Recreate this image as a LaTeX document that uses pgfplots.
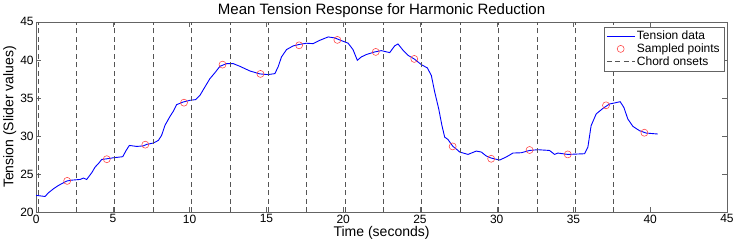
\documentclass[border=0pt]{standalone}
\usepackage{pgfplots}
\pgfplotsset{compat=1.18}
\usepackage{fontspec}
\setmainfont{Liberation Sans}
\definecolor{axgray}{RGB}{100,100,100}
\definecolor{dashgray}{RGB}{85,85,85}
\pgfplotsset{
  longline legend/.style={legend image code/.code={\draw[##1] (0cm,0cm) -- (0.97cm,0cm);}},
  midmark legend/.style={legend image code/.code={\draw[##1] plot coordinates {(0.485cm,0cm)};}},
}
\begin{document}
\begin{tikzpicture}
\begin{axis}[
  scale only axis,
  width=690pt, height=190pt,
  xmin=0, xmax=45, ymin=20, ymax=45,
  xtick={0,5,...,45}, ytick={20,25,...,45},
  tick align=inside, tick pos=both,
  major tick length=5pt,
  axis line style={axgray},
  every tick/.style={axgray},
  tick label style={font=\fontsize{12}{13}\selectfont},
  /pgf/number format/assume math mode=true,
  xticklabel style={yshift=1pt},
  yticklabel style={xshift=1pt},
  title={Mean Tension Response for Harmonic Reduction},
  title style={font=\fontsize{15}{17}\selectfont, yshift=-5pt},
  xlabel={Time (seconds)},
  ylabel={Tension (Slider values)},
  label style={font=\fontsize{14}{16}\selectfont},
  xlabel style={yshift=4pt},
  ylabel style={yshift=-3pt},
  unbounded coords=jump,
  legend cell align=left,
  legend style={at={(1,1)}, anchor=north east, xshift=-3pt, yshift=-5pt,
    font=\fontsize{12}{13}\selectfont, draw=axgray, inner sep=2pt, row sep=-1.5pt},
]
\addplot[blue, line width=0.9pt, longline legend] coordinates {
(0,22.2) (0.58,22.05) (0.8,22.54) (1.13,23.07) (1.45,23.5) (1.99,24.08)
(2.32,24.2) (2.86,24.29) (3.08,24.47) (3.29,24.29) (3.62,25.17) (3.84,25.92)
(4.05,26.36) (4.27,26.92) (4.59,27.0) (5.03,27.14) (5.64,27.28) (5.86,28.1)
(6.07,28.76) (6.55,28.63) (6.98,28.7) (7.2,28.9) (7.63,29.07) (7.96,29.42)
(8.17,30.08) (8.39,31.4) (8.72,32.58) (8.93,33.24) (9.15,34.12) (9.58,34.47)
(10.02,34.69) (10.38,34.78) (10.67,35.34) (10.99,36.44) (11.32,37.54) (11.65,38.33)
(11.97,39.16) (12.4,39.51) (12.84,39.51) (13.27,39.16) (13.92,38.55) (14.57,38.16)
(15.11,38.07) (15.55,38.2) (15.76,39.08) (15.98,40.39) (16.31,41.36) (16.74,41.84)
(17.18,42.05) (17.61,42.19) (18.04,42.14) (18.48,42.58) (19.02,43.02) (19.45,42.89)
(19.88,42.54) (20.32,42.2) (20.64,41.35) (20.92,39.95) (21.18,40.39) (21.5,40.7)
(22.05,41.05) (22.48,41.22) (23.03,40.96) (23.35,41.84) (23.57,42.1) (23.9,41.27)
(24.22,40.61) (24.66,40.08) (25.09,39.38) (25.48,38.95) (25.74,37.97) (25.96,35.79)
(26.22,33.59) (26.43,31.4) (26.61,29.86) (26.82,29.55) (27.15,28.63) (27.48,28.1)
(27.59,27.89) (28.13,27.58) (28.67,28.02) (29.0,27.89) (29.32,27.37) (29.64,27.1)
(30.19,26.84) (30.62,27.24) (31.06,27.76) (31.6,27.8) (32.14,28.1) (32.68,28.2)
(33.44,28.1) (33.77,27.58) (33.98,27.76) (34.31,27.67) (34.63,27.58) (35.72,27.67)
(35.94,28.55) (36.15,31.36) (36.48,32.9) (36.92,33.63) (37.35,34.21) (37.67,34.34)
(38.04,34.51) (38.28,33.77) (38.54,32.24) (38.87,31.27) (39.3,30.7) (39.73,30.39)
(40.49,30.26)
};
\addlegendentry{Tension data}
\addplot[only marks, mark=o, mark size=3.5pt, red!75!white, mark options={line width=0.55pt}, midmark legend] coordinates {
(2.02,24.1) (4.6,26.95) (7.11,28.86) (9.63,34.38) (12.14,39.38) (14.61,38.16)
(17.13,41.92) (19.62,42.63) (22.12,41.05) (24.63,40.13) (27.13,28.63) (29.64,27.01)
(32.14,28.16) (34.63,27.58) (37.12,34.03) (39.62,30.43)
};
\addlegendentry{Sampled points}
\addplot[dashgray, line width=0.65pt, dash pattern=on 5pt off 3.5pt, longline legend] coordinates {
(0.12,20) (0.12,45) (0.12,nan)
(2.62,20) (2.62,45) (2.62,nan)
(5.12,20) (5.12,45) (5.12,nan)
(7.62,20) (7.62,45) (7.62,nan)
(10.12,20) (10.12,45) (10.12,nan)
(12.62,20) (12.62,45) (12.62,nan)
(15.12,20) (15.12,45) (15.12,nan)
(17.62,20) (17.62,45) (17.62,nan)
(20.12,20) (20.12,45) (20.12,nan)
(22.62,20) (22.62,45) (22.62,nan)
(25.12,20) (25.12,45) (25.12,nan)
(27.62,20) (27.62,45) (27.62,nan)
(30.12,20) (30.12,45) (30.12,nan)
(32.62,20) (32.62,45) (32.62,nan)
(35.12,20) (35.12,45) (35.12,nan)
(37.62,20) (37.62,45)
};
\addlegendentry{Chord onsets}
\end{axis}
\end{tikzpicture}
\end{document}
